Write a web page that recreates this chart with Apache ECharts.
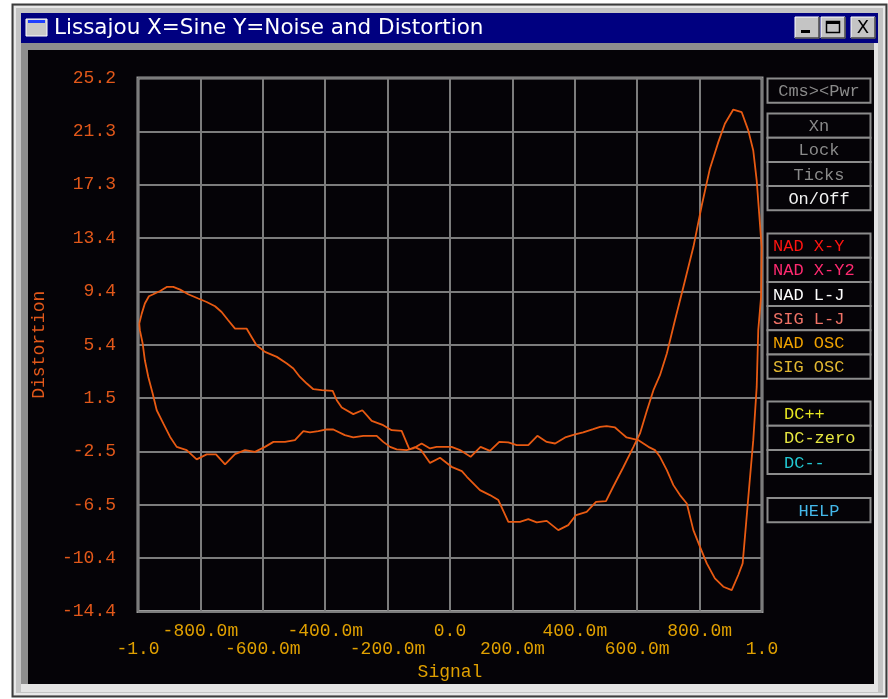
<!DOCTYPE html>
<html>
<head>
<meta charset="utf-8">
<title>Lissajou X=Sine Y=Noise and Distortion</title>
<script src="https://cdn.jsdelivr.net/npm/echarts@6/dist/echarts.min.js"></script>
<style>
  html, body { margin: 0; padding: 0; background: #ffffff; }
  #chart { position: absolute; left: 0; top: 0; width: 888px; height: 699px; }
</style>
</head>
<body>
<div id="chart"></div>
<script>
// Window caption
const windowTitle = 'Lissajou X=Sine Y=Noise and Distortion';

// Axis titles and tick labels
const xAxisTitle = 'Signal';
const yAxisTitle = 'Distortion';
const xTickLabels = ['-1.0', '-800.0m', '-600.0m', '-400.0m', '-200.0m', '0.0',
                     '200.0m', '400.0m', '600.0m', '800.0m', '1.0'];
const yTickLabels = ['-14.4', '-10.4', '-6.5', '-2.5', '1.5', '5.4',
                     '9.4', '13.4', '17.3', '21.3', '25.2'];
const xRange = [-1, 1];
const yRange = [-14.37, 25.23];

// Lissajou trace: X = sine signal, Y = noise and distortion (one full cycle)
const signal = [
  -0.996, -0.988, -0.978, -0.965, -0.951, -0.929, -0.908, -0.887, -0.865, -0.839,
  -0.807, -0.780, -0.753, -0.732, -0.711, -0.689, -0.652, -0.636, -0.620, -0.593,
  -0.555, -0.523, -0.502, -0.481, -0.459, -0.438, -0.411, -0.376, -0.363, -0.347,
  -0.310, -0.281, -0.267, -0.251, -0.214, -0.187, -0.155, -0.130, -0.112, -0.093,
  -0.064, -0.032, 0.005, 0.038, 0.054, 0.096, 0.128, 0.155, 0.187, 0.224,
  0.251, 0.278, 0.310, 0.347, 0.379, 0.404, 0.438, 0.468, 0.500, 0.523,
  0.555, 0.588, 0.609, 0.630, 0.652, 0.673, 0.695, 0.721, 0.748, 0.780,
  0.807, 0.833, 0.860, 0.881, 0.908, 0.935, 0.956, 0.972, 0.983, 0.991,
  0.999, 0.997, 0.988, 0.983, 0.972, 0.959, 0.949, 0.938, 0.924, 0.903,
  0.876, 0.849, 0.823, 0.801, 0.780, 0.759, 0.737, 0.716, 0.695, 0.673,
  0.657, 0.636, 0.604, 0.566, 0.545, 0.529, 0.502, 0.481, 0.459, 0.427,
  0.401, 0.369, 0.337, 0.310, 0.280, 0.251, 0.214, 0.187, 0.158, 0.128,
  0.098, 0.066, 0.032, 0.005, -0.043, -0.064, -0.091, -0.118, -0.139, -0.171,
  -0.192, -0.214, -0.235, -0.278, -0.310, -0.337, -0.374, -0.395, -0.422, -0.449,
  -0.470, -0.497, -0.529, -0.566, -0.593, -0.625, -0.657, -0.689, -0.721, -0.750,
  -0.780, -0.812, -0.844, -0.876, -0.897, -0.919, -0.940, -0.953, -0.967, -0.978,
  -0.985, -0.994, -0.996
];
const distortion = [
  7.00, 7.74, 8.49, 9.03, 9.18, 9.42, 9.72, 9.72, 9.52, 9.18,
  8.86, 8.60, 8.29, 7.86, 7.25, 6.63, 6.63, 6.01, 5.39, 4.90,
  4.53, 4.04, 3.67, 3.04, 2.55, 2.13, 2.06, 2.00, 1.31, 0.77,
  0.28, 0.57, 0.20, -0.22, -0.54, -0.91, -0.96, -2.34, -2.17, -2.39,
  -3.34, -2.96, -3.63, -3.95, -4.37, -5.36, -5.73, -6.10, -7.71, -7.71,
  -7.51, -7.75, -7.64, -8.33, -7.96, -7.21, -6.97, -6.23, -6.18, -5.11,
  -3.68, -2.15, -1.15, 0.45, 2.06, 3.17, 4.78, 7.25, 9.72, 12.68,
  15.78, 18.50, 20.47, 21.83, 22.89, 22.69, 21.34, 19.85, 17.63, 15.16,
  12.68, 8.97, 6.51, 2.30, -1.65, -5.11, -7.83, -10.80, -11.66, -12.78,
  -12.53, -11.91, -10.80, -9.56, -8.33, -6.35, -5.73, -4.99, -3.88, -2.89,
  -2.39, -2.15, -1.65, -1.45, -1.04, -0.71, -0.61, -0.67, -0.84, -1.08,
  -1.23, -1.45, -1.90, -1.78, -1.33, -2.02, -2.02, -1.82, -1.78, -2.45,
  -2.15, -2.89, -2.39, -2.15, -2.15, -2.27, -1.90, -2.27, -2.39, -2.34,
  -2.15, -1.78, -1.33, -1.33, -1.45, -1.28, -0.86, -0.86, -0.98, -1.08,
  -0.98, -1.65, -1.78, -1.78, -2.15, -2.52, -2.39, -2.69, -3.45, -2.71,
  -2.71, -3.08, -2.39, -2.15, -1.41, -0.41, 0.57, 1.81, 3.04, 4.28,
  5.52, 6.51, 7.00
];

// Control panel button groups: [label, colour]
const btnMode = [['Cms><Pwr', '#8a8a8a']];
const btnScale = [['Xn', '#8a8a8a'], ['Lock', '#8a8a8a'], ['Ticks', '#8a8a8a'], ['On/Off', '#f2f2f2']];
const btnView = [['NAD X-Y', '#ff1410'], ['NAD X-Y2', '#ff2a70'], ['NAD L-J', '#ffffff'],
                 ['SIG L-J', '#f07266'], ['NAD OSC', '#f0a200'], ['SIG OSC', '#e2b832']];
const btnDc = [['DC++', '#e6e620'], ['DC-zero', '#e6e640'], ['DC--', '#22c8d2']];
const btnHelp = [['HELP', '#44b8ea']];

const MONO = "'Liberation Mono', 'Courier New', 'DejaVu Sans Mono', monospace";
const Y_COLOR = '#e2581a';
const X_COLOR = '#e0a000';
const TRACE_COLOR = '#e85a12';

const chart = echarts.init(document.getElementById('chart'), null, { renderer: 'canvas', width: 888, height: 699 });

// Window chrome: frame, caption bar, sunken client well
const chrome = [
  { type: 'rect', z: -10, shape: { x: 12.5, y: 4.5, width: 874, height: 692 },
    style: { fill: '#cfcfcf', stroke: '#3c3c3c', lineWidth: 2 } },
  { type: 'rect', z: -9, shape: { x: 15, y: 7, width: 869, height: 687 },
    style: { fill: '#c4c4c4', stroke: '#e8e8e8', lineWidth: 2 } },
  { type: 'rect', z: -8, shape: { x: 21, y: 43, width: 857, height: 649 },
    style: { fill: '#e4e4e4' } },
  { type: 'rect', z: -7, shape: { x: 21, y: 43, width: 853, height: 641 },
    style: { fill: '#8e8e8e' } },
  { type: 'rect', z: -6, shape: { x: 28, y: 50, width: 846, height: 634 },
    style: { fill: '#050307' } },
  { type: 'rect', z: -6, shape: { x: 21, y: 13, width: 857, height: 30 },
    style: { fill: '#000080' } },
  // caption icon
  { type: 'rect', z: -5, shape: { x: 26, y: 19, width: 21, height: 17 },
    style: { fill: '#c8c8c8', stroke: '#ffffff', lineWidth: 1 } },
  { type: 'rect', z: -4, shape: { x: 28, y: 20, width: 17, height: 3 },
    style: { fill: '#2040ff' } },
  { type: 'text', z: -4, x: 54, y: 28,
    style: { text: windowTitle, fill: '#ffffff', fontSize: 21.5,
      fontFamily: "'DejaVu Sans', 'Liberation Sans', sans-serif",
      verticalAlign: 'middle', align: 'left' } }
];

// Caption buttons: minimise, maximise, close
function capButton(x) {
  return [
    { type: 'rect', z: -5, shape: { x: x, y: 17, width: 24, height: 21 },
      style: { fill: '#c4c4c4', stroke: '#ffffff', lineWidth: 1 } },
    { type: 'polyline', z: -4, shape: { points: [[x + 24, 17], [x + 24, 38], [x, 38]] },
      style: { stroke: '#404040', lineWidth: 1.5, fill: null } }
  ];
}
chrome.push(...capButton(795), ...capButton(821), ...capButton(851));
chrome.push(
  { type: 'rect', z: -3, shape: { x: 801, y: 30, width: 9, height: 3 }, style: { fill: '#000000' } },
  { type: 'rect', z: -3, shape: { x: 826.5, y: 21.5, width: 13, height: 11 },
    style: { fill: null, stroke: '#000000', lineWidth: 1.5 } },
  { type: 'rect', z: -3, shape: { x: 826, y: 21, width: 14, height: 3 }, style: { fill: '#000000' } },
  { type: 'text', z: -3, x: 863, y: 28,
    style: { text: 'X', fill: '#000000', fontSize: 18, fontFamily: "'DejaVu Sans', sans-serif",
      align: 'center', verticalAlign: 'middle' } }
);

// Control panel on the right of the plot
const PANEL_X = 767.5, PANEL_W = 103, ROW_H = 24.2;
function buttonGroup(items, top, textAlign, textX) {
  const els = [];
  items.forEach(function (item, i) {
    const y = top + i * ROW_H;
    els.push({ type: 'rect', z: 5, shape: { x: PANEL_X, y: y, width: PANEL_W, height: ROW_H },
      style: { fill: '#050307', stroke: '#8c8c8c', lineWidth: 2 } });
    els.push({ type: 'text', z: 6,
      x: textAlign === 'center' ? PANEL_X + PANEL_W / 2 : textX, y: y + ROW_H / 2 + 1,
      style: { text: item[0], fill: item[1], fontSize: 17, fontFamily: MONO,
        align: textAlign, verticalAlign: 'middle' } });
  });
  return els;
}
const panel = [].concat(
  buttonGroup(btnMode, 78.5, 'center'),
  buttonGroup(btnScale, 113.5, 'center'),
  buttonGroup(btnView, 233.5, 'left', 773),
  buttonGroup(btnDc, 401.5, 'left', 784),
  buttonGroup(btnHelp, 498, 'center')
);

const tracePoints = signal.map(function (x, i) { return [x, distortion[i]]; });

const option = {
  animation: false,
  backgroundColor: 'transparent',
  graphic: { elements: chrome.concat(panel) },
  grid: {
    left: 138, top: 78, right: 126, bottom: 87.5,
    show: true, backgroundColor: 'transparent',
    borderColor: '#9a9a9a', borderWidth: 3
  },
  xAxis: {
    type: 'value', min: xRange[0], max: xRange[1], interval: 0.2,
    name: xAxisTitle, nameLocation: 'middle', nameGap: 48,
    nameTextStyle: { color: X_COLOR, fontSize: 18, fontFamily: MONO },
    axisLine: { show: false }, axisTick: { show: false },
    splitLine: { show: true, lineStyle: { color: '#7c7c7c', width: 2 } },
    axisLabel: {
      color: X_COLOR, fontSize: 18, fontFamily: MONO, margin: 11, lineHeight: 18,
      formatter: function (v) {
        const i = Math.round((v - xRange[0]) / 0.2);
        const t = xTickLabels[i];
        return i % 2 === 0 ? '\n' + t : t;
      }
    }
  },
  yAxis: [
    {
      type: 'value', min: yRange[0], max: yRange[1], show: false,
      splitLine: { show: false }
    },
    {
      type: 'value', min: 0, max: 10, interval: 1, position: 'left',
      name: yAxisTitle, nameLocation: 'middle', nameGap: 90, nameRotate: 90,
      nameTextStyle: { color: Y_COLOR, fontSize: 18, fontFamily: MONO },
      axisLine: { show: false }, axisTick: { show: false },
      splitLine: { show: true, lineStyle: { color: '#7c7c7c', width: 2 } },
      axisLabel: {
        color: Y_COLOR, fontSize: 18, fontFamily: MONO, margin: 22,
        formatter: function (v) { return yTickLabels[Math.round(v)]; }
      }
    }
  ],
  series: [{
    type: 'line', xAxisIndex: 0, yAxisIndex: 0,
    data: tracePoints, showSymbol: false, smooth: false,
    lineStyle: { color: TRACE_COLOR, width: 1.8 }
  }]
};
chart.setOption(option);
</script>
</body>
</html>
